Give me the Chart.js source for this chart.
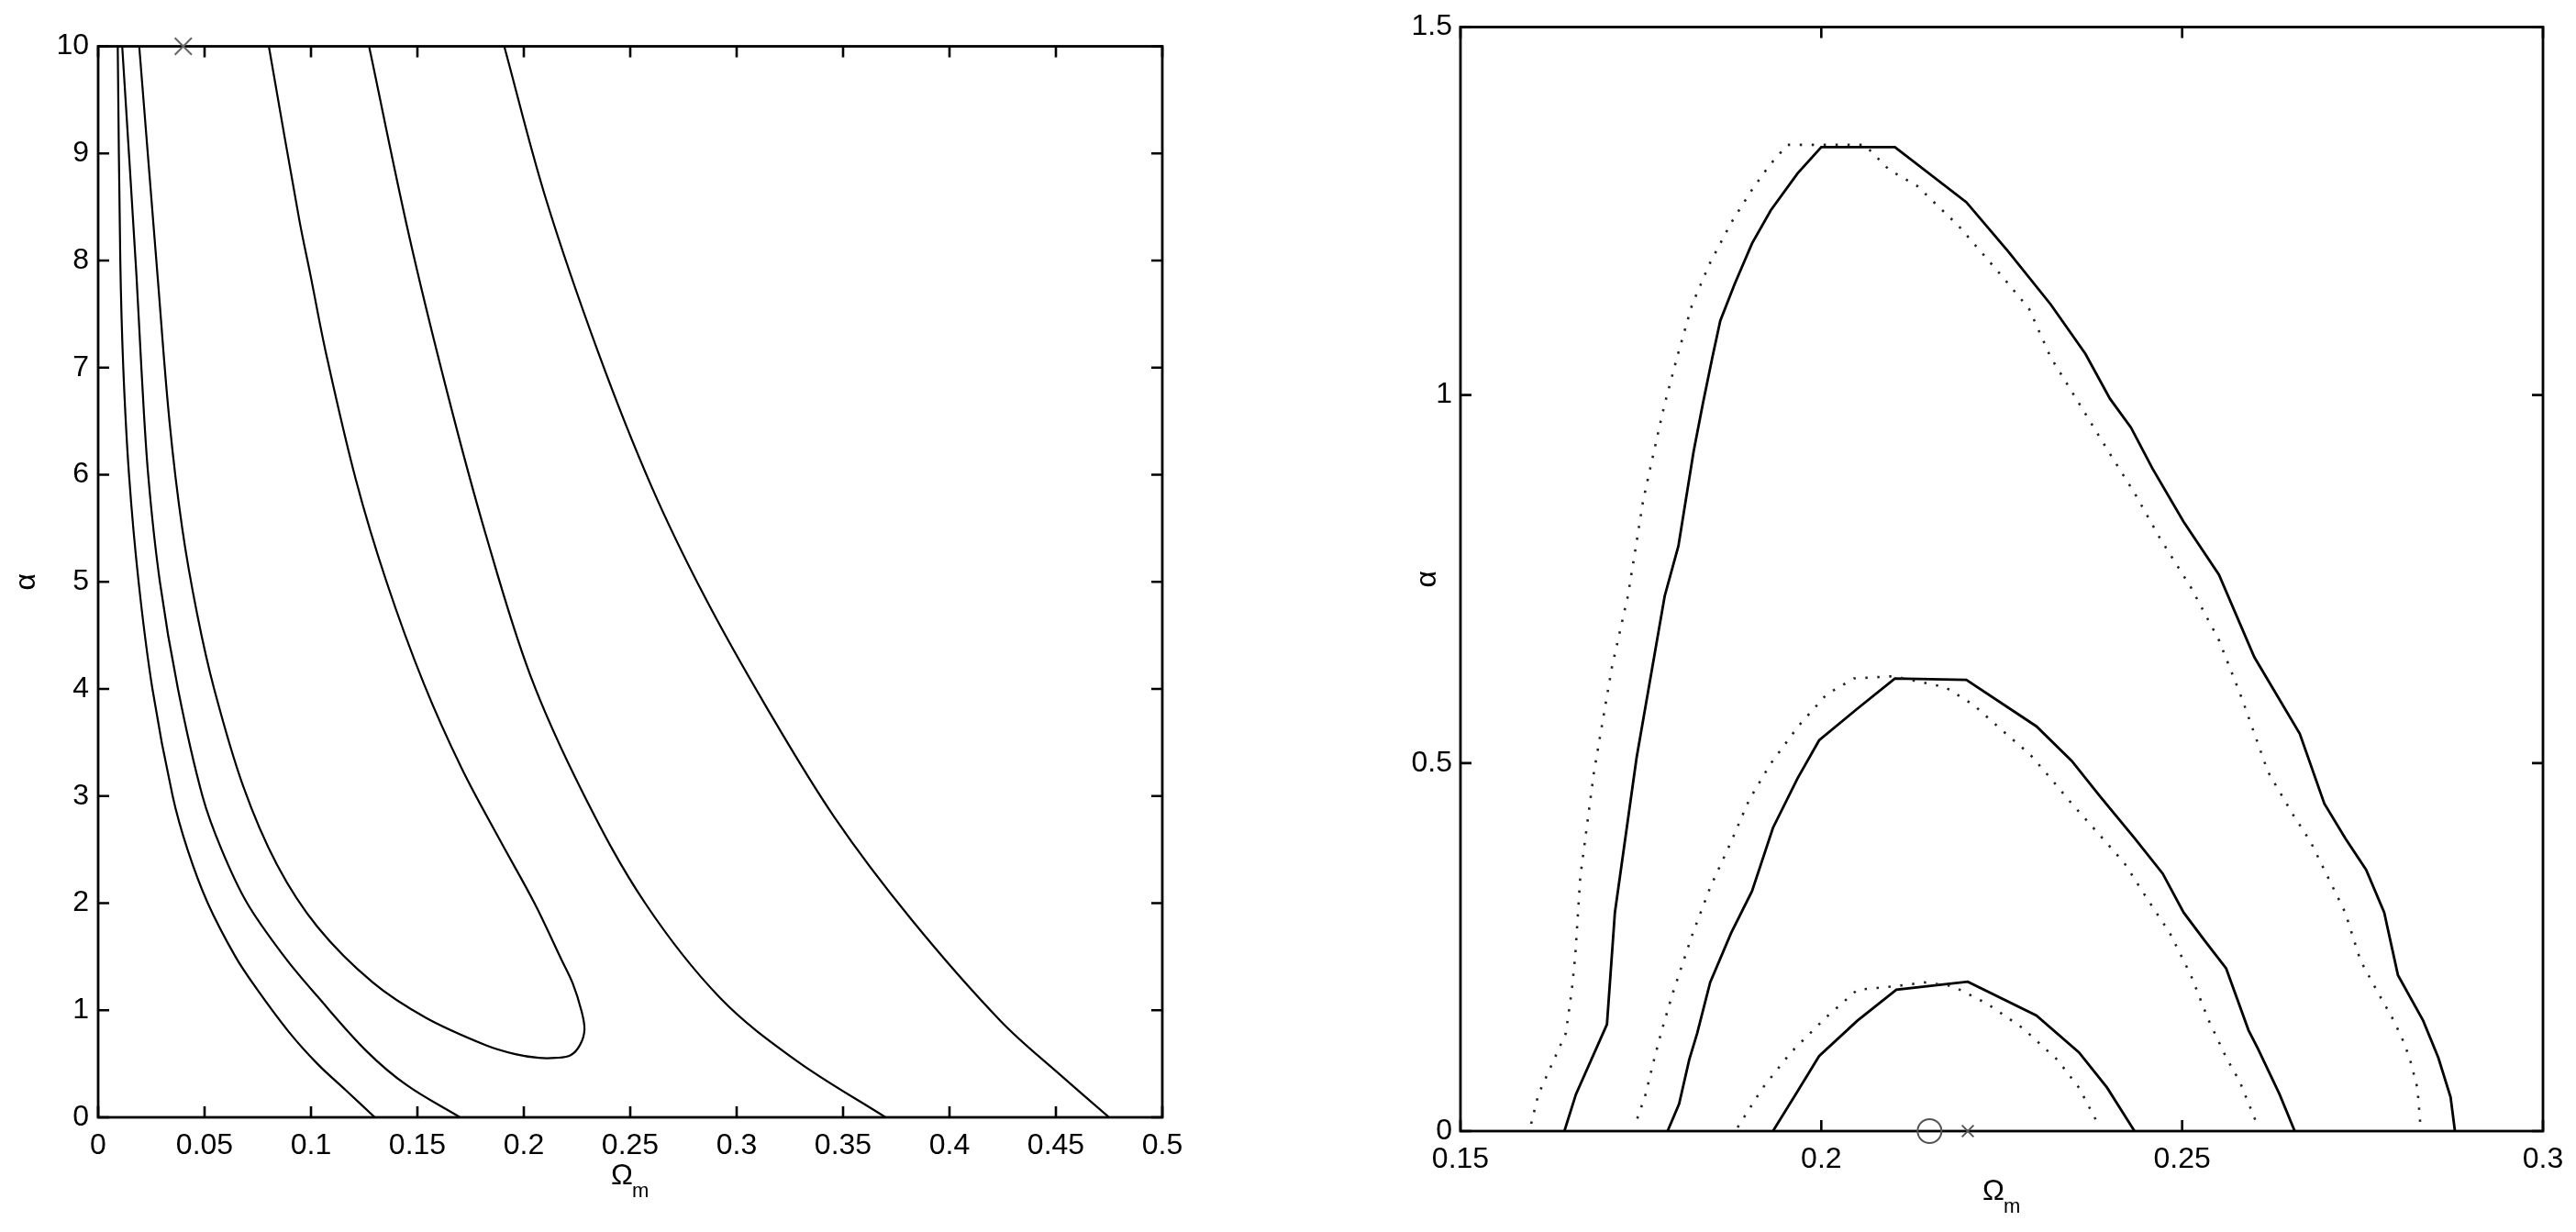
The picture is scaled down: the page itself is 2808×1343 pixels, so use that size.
<!DOCTYPE html>
<html><head><meta charset="utf-8">
<script src="https://cdn.jsdelivr.net/npm/chart.js@4.4.0/dist/chart.umd.min.js"></script>
<style>
html,body{margin:0;padding:0;background:#fff;}
#wrap{position:relative;width:2808px;height:1343px;background:#fff;overflow:hidden;}
#cL{position:absolute;left:0;top:0;width:1400px;height:1343px;}
#cR{position:absolute;left:1400px;top:0;width:1408px;height:1343px;}
</style></head><body>
<div id="wrap"><canvas id="cL" width="1400" height="1343"></canvas><canvas id="cR" width="1408" height="1343"></canvas></div>
<script>
// ---------- Left panel data (Omega_m vs alpha) ----------
const leftXTickValues = [0,0.05,0.1,0.15,0.2,0.25,0.3,0.35,0.4,0.45,0.5];
const leftXTickLabels = ['0','0.05','0.1','0.15','0.2','0.25','0.3','0.35','0.4','0.45','0.5'];
const leftYTickValues = [0,1,2,3,4,5,6,7,8,9,10];
const leftYTickLabels = ['0','1','2','3','4','5','6','7','8','9','10'];

const curveA_x = [0.0092,0.0104,0.0118,0.0145,0.0190,0.0255,0.0350,0.0420,0.0515,0.0645,0.0745,0.0895,0.1030,0.1165,0.1300];
const curveA_y = [10,8,7,6,5,4,3,2.5,2,1.5,1.2,0.8,0.5,0.25,0];
const curveB_x = [0.0113,0.0180,0.0203,0.0235,0.0290,0.0375,0.0490,0.0580,0.0700,0.0875,0.1030,0.1260,0.1450,0.1700];
const curveB_y = [10,7.86,7,6,5,4,3,2.5,2,1.5,1.13,0.62,0.3,0];
const curveC_x = [0.0193,0.0279,0.0335,0.0395,0.0465,0.0545,0.0680,0.0840,0.1030,0.1290,0.1540,0.1820,0.1960,0.2070,0.2150,0.2220,0.2265,0.2285,0.2270,0.2230,0.2175,0.2050,0.1890,0.1710,0.1530,0.1355,0.1210,0.1070,0.0998,0.0945,0.0802];
const curveC_y = [10,7.86,6.5,5.5,4.7,4.0,3.1,2.36,1.78,1.26,0.93,0.675,0.59,0.555,0.555,0.58,0.68,0.82,1.0,1.25,1.48,2.0,2.58,3.25,4.05,5.0,5.96,7.14,7.86,8.38,10];
const curveE_x = [0.1273,0.1460,0.1640,0.1820,0.2030,0.2280,0.2570,0.2920,0.3280,0.3700];
const curveE_y = [10,8.24,6.77,5.45,4.13,3.02,2.0,1.12,0.53,0];
const curveF_x = [0.1908,0.2100,0.2350,0.2600,0.2850,0.3140,0.3460,0.3820,0.4240,0.4530,0.4750];
const curveF_y = [10,8.6,7.14,5.89,4.86,3.83,2.8,1.85,0.9,0.38,0];
const leftMarker_x = [0.04];
const leftMarker_y = [10];

// ---------- Right panel data ----------
const rightXTickValues = [0.15,0.2,0.25,0.3];
const rightXTickLabels = ['0.15','0.2','0.25','0.3'];
const rightYTickValues = [0,0.5,1,1.5];
const rightYTickLabels = ['0','0.5','1','1.5'];

const outerSolid_x = [0.1644,0.1660,0.1703,0.1714,0.1744,0.1783,0.1802,0.1812,0.1823,0.1836,0.1849,0.1860,0.1880,0.1904,0.1930,0.1967,0.2000,0.2102,0.2201,0.2259,0.2318,0.2366,0.2400,0.2429,0.2459,0.2502,0.2551,0.2600,0.2663,0.2697,0.2726,0.2755,0.2780,0.2799,0.2834,0.2855,0.2872,0.2878];
const outerSolid_y = [0,0.05,0.145,0.297,0.507,0.727,0.795,0.856,0.923,0.989,1.051,1.101,1.151,1.206,1.251,1.301,1.337,1.337,1.262,1.195,1.123,1.056,0.995,0.956,0.900,0.828,0.756,0.644,0.540,0.445,0.398,0.355,0.297,0.212,0.150,0.0997,0.046,0];
const outerDotted_x = [0.1598,0.1608,0.1625,0.1646,0.1654,0.1659,0.1666,0.1685,0.1710,0.1732,0.1744,0.1753,0.1768,0.1782,0.1800,0.1821,0.1845,0.1875,0.1904,0.1928,0.1953,0.2060,0.2094,0.2133,0.2191,0.2250,0.2288,0.2318,0.2357,0.2395,0.2434,0.2469,0.2512,0.2551,0.2582,0.2619,0.2653,0.2678,0.2702,0.2726,0.2747,0.2768,0.2791,0.2804,0.2815,0.2826,0.2830];
const outerDotted_y = [0.01,0.050,0.087,0.133,0.189,0.237,0.345,0.488,0.631,0.727,0.800,0.856,0.923,0.984,1.051,1.123,1.178,1.234,1.279,1.312,1.340,1.340,1.306,1.284,1.229,1.162,1.117,1.051,0.989,0.928,0.867,0.806,0.739,0.667,0.590,0.488,0.431,0.393,0.345,0.297,0.232,0.194,0.154,0.128,0.100,0.0586,0.01];
const midSolid_x = [0.1787,0.1803,0.1817,0.1828,0.1846,0.1875,0.1904,0.1933,0.1967,0.1997,0.2050,0.2102,0.2201,0.2298,0.2347,0.2386,0.2434,0.2473,0.2502,0.2531,0.2561,0.2592,0.2605,0.2635,0.2656];
const midSolid_y = [0,0.037,0.097,0.133,0.202,0.269,0.326,0.412,0.479,0.531,0.574,0.615,0.613,0.550,0.503,0.455,0.398,0.350,0.297,0.259,0.221,0.137,0.112,0.050,0];
const midDotted_x = [0.1745,0.1756,0.1769,0.1779,0.1794,0.1822,0.1846,0.1875,0.1900,0.1929,0.1968,0.2007,0.2045,0.2100,0.2172,0.2211,0.2250,0.2289,0.2318,0.2347,0.2386,0.2420,0.2454,0.2483,0.2512,0.2537,0.2561,0.2580,0.2603];
const midDotted_y = [0.017,0.048,0.100,0.137,0.187,0.269,0.331,0.393,0.450,0.498,0.550,0.593,0.615,0.618,0.603,0.579,0.545,0.512,0.479,0.445,0.402,0.364,0.312,0.269,0.212,0.150,0.100,0.067,0.011];
const innerSolid_x = [0.1933,0.1967,0.1997,0.2050,0.2104,0.2203,0.2298,0.2357,0.2396,0.2434];
const innerSolid_y = [0,0.054,0.102,0.150,0.192,0.203,0.157,0.107,0.059,0];
const innerDotted_x = [0.1884,0.1919,0.1958,0.2006,0.2050,0.2104,0.2143,0.2182,0.2230,0.2279,0.2327,0.2357,0.2386];
const innerDotted_y = [0.005,0.059,0.107,0.154,0.192,0.197,0.202,0.197,0.173,0.140,0.097,0.059,0.005];
const rightCircle_x = [0.215];
const rightCircle_y = [0];
const rightCross_x = [0.2203];
const rightCross_y = [0];

// ---------- helpers ----------
const pts = (xs, ys) => xs.map((x, i) => ({x: x, y: ys[i]}));
Chart.defaults.font.family = "'Liberation Sans', Arial, Helvetica, sans-serif";
Chart.defaults.font.size = 32;
Chart.defaults.color = '#000';

function solid(xs, ys, w, tension) {
  return {data: pts(xs, ys), showLine: true, borderColor: '#000', borderWidth: w, pointRadius: 0, tension: tension, fill: false};
}
function dotted(xs, ys) {
  return {data: pts(xs, ys), showLine: true, borderColor: '#222', borderWidth: 2.6, borderDash: [2.5, 10.5], pointRadius: 0, tension: 0, fill: false};
}
function axisX(min, max, vals, labels, h) {
  return {type: 'linear', position: 'bottom', min: min, max: max,
    afterBuildTicks: s => { s.ticks = vals.map(v => ({value: v})); },
    afterFit: s => { s.height = h; },
    grid: {display: false, drawTicks: false}, border: {display: false},
    ticks: {autoSkip: false, maxRotation: 0, padding: 12, color: '#000',
      callback: v => { const i = vals.findIndex(t => Math.abs(t - v) < 1e-9); return i >= 0 ? labels[i] : ''; }}};
}
function axisY(min, max, vals, labels, w, pad) {
  return {type: 'linear', position: 'left', min: min, max: max,
    afterBuildTicks: s => { s.ticks = vals.map(v => ({value: v})); },
    afterFit: s => { s.width = w; },
    grid: {display: false, drawTicks: false}, border: {display: false},
    ticks: {autoSkip: false, padding: pad, color: '#000',
      callback: v => { const i = vals.findIndex(t => Math.abs(t - v) < 1e-9); return i >= 0 ? labels[i] : ''; }}};
}

const framePlugin = {
  id: 'frame',
  beforeDatasetsDraw(chart, args, o) {
    const {ctx, chartArea: a} = chart;
    const x = chart.scales.x, y = chart.scales.y;
    ctx.save();
    ctx.strokeStyle = '#000';
    ctx.lineWidth = 2.6;
    ctx.lineCap = 'butt';
    ctx.beginPath();
    x.ticks.forEach(t => { const p = x.getPixelForValue(t.value);
      ctx.moveTo(p, a.bottom); ctx.lineTo(p, a.bottom - o.tl);
      ctx.moveTo(p, a.top); ctx.lineTo(p, a.top + o.tl); });
    y.ticks.forEach(t => { const p = y.getPixelForValue(t.value);
      ctx.moveTo(a.left, p); ctx.lineTo(a.left + o.tl, p);
      ctx.moveTo(a.right, p); ctx.lineTo(a.right - o.tl, p); });
    ctx.stroke();
    ctx.lineWidth = 2.8;
    ctx.strokeRect(a.left, a.top, a.right - a.left, a.bottom - a.top);
    ctx.restore();
  },
  afterDraw(chart, args, o) {
    const {ctx, chartArea: a} = chart;
    ctx.save();
    ctx.fillStyle = '#000';
    ctx.textAlign = 'left';
    ctx.textBaseline = 'alphabetic';
    const cx = (a.left + a.right) / 2;
    ctx.font = "32px 'Liberation Sans', Arial, sans-serif";
    ctx.fillText('\u03A9', cx - 21, o.omegaBase);
    ctx.font = "22px 'Liberation Sans', Arial, sans-serif";
    ctx.fillText('m', cx + 2, o.mBase);
    ctx.translate(o.alphaX, (a.top + a.bottom) / 2);
    ctx.rotate(-Math.PI / 2);
    ctx.textAlign = 'center';
    ctx.textBaseline = 'middle';
    ctx.font = "32px 'Liberation Sans', Arial, sans-serif";
    ctx.fillText('\u03B1', 0, 0);
    ctx.restore();
  }
};

new Chart(document.getElementById('cL'), {
  type: 'scatter',
  data: {datasets: [
    solid(curveA_x, curveA_y, 2.2, 0.35),
    solid(curveB_x, curveB_y, 2.2, 0.35),
    solid(curveC_x, curveC_y, 2.2, 0.35),
    solid(curveE_x, curveE_y, 2.2, 0.35),
    solid(curveF_x, curveF_y, 2.2, 0.35),
    {data: pts(leftMarker_x, leftMarker_y), showLine: false, pointStyle: 'crossRot', pointRadius: 13, pointBorderWidth: 2, pointBorderColor: '#666', pointBackgroundColor: '#666', clip: false}
  ]},
  options: {
    responsive: false, animation: false, devicePixelRatio: 1,
    layout: {padding: {left: 0, right: 133, top: 50.5, bottom: 0}},
    plugins: {legend: {display: false}, tooltip: {enabled: false},
      frame: {tl: 12, omegaBase: 1291, mBase: 1305, alphaX: 29}},
    scales: {
      x: axisX(0, 0.5, leftXTickValues, leftXTickLabels, 125),
      y: axisY(0, 10, leftYTickValues, leftYTickLabels, 107, 10)
    }
  },
  plugins: [framePlugin]
});

new Chart(document.getElementById('cR'), {
  type: 'scatter',
  data: {datasets: [
    dotted(outerDotted_x, outerDotted_y),
    dotted(midDotted_x, midDotted_y),
    dotted(innerDotted_x, innerDotted_y),
    solid(outerSolid_x, outerSolid_y, 2.8, 0),
    solid(midSolid_x, midSolid_y, 2.8, 0),
    solid(innerSolid_x, innerSolid_y, 2.8, 0),
    {data: pts(rightCircle_x, rightCircle_y), showLine: false, pointStyle: 'circle', pointRadius: 13, pointBorderWidth: 2, pointBorderColor: '#555', pointBackgroundColor: 'rgba(0,0,0,0)', clip: false},
    {data: pts(rightCross_x, rightCross_y), showLine: false, pointStyle: 'crossRot', pointRadius: 9, pointBorderWidth: 2, pointBorderColor: '#555', clip: false}
  ]},
  options: {
    responsive: false, animation: false, devicePixelRatio: 1,
    layout: {padding: {left: 0, right: 36, top: 29.5, bottom: 0}},
    plugins: {legend: {display: false}, tooltip: {enabled: false},
      frame: {tl: 12, omegaBase: 1308, mBase: 1322, alphaX: 1556 - 1400}},
    scales: {
      x: axisX(0.15, 0.3, rightXTickValues, rightXTickLabels, 110),
      y: axisY(0, 1.5, rightYTickValues, rightYTickLabels, 192, 9)
    }
  },
  plugins: [framePlugin]
});
</script>
</body></html>
